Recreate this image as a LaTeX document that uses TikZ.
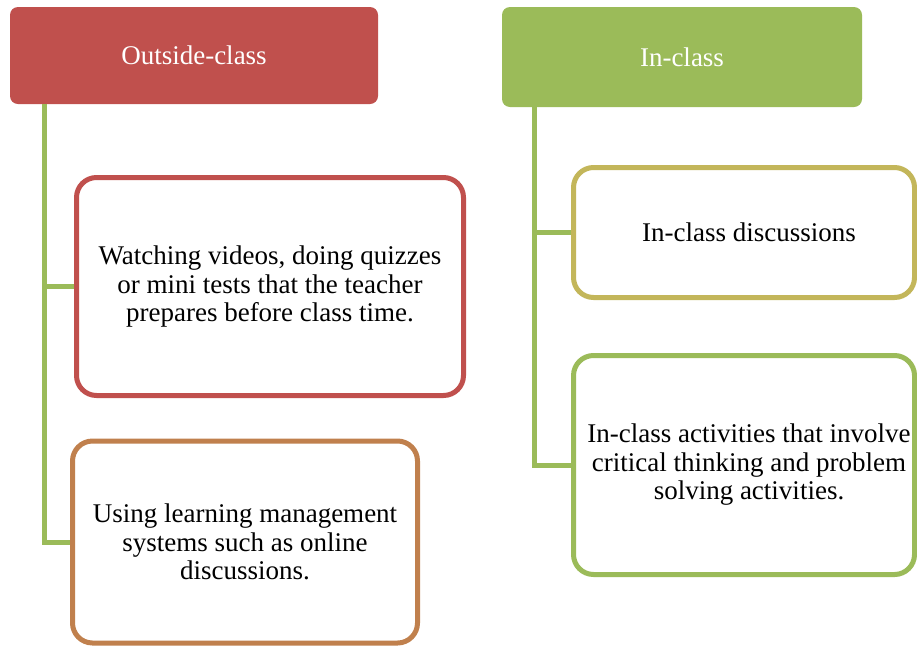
\documentclass[tikz,border=0pt]{standalone}
\usepackage{fontspec}
\setmainfont{Liberation Serif}
\definecolor{hred}{HTML}{C0504D}
\definecolor{hgreen}{HTML}{9BBB59}
\definecolor{borange}{HTML}{C0804D}
\definecolor{bolive}{HTML}{C3B65A}
\tikzset{
  headbox/.style={rectangle, rounded corners=8pt, inner sep=0pt, text=white,
    font=\fontsize{27}{28.5}\selectfont},
  itembox/.style={rectangle, rounded corners=20pt, line width=5pt, fill=white,
    align=center, inner sep=0pt, font=\fontsize{27}{28.5}\selectfont},
  link/.style={line width=5pt, draw=hgreen}
}
\begin{document}
\begin{tikzpicture}[x=1pt,y=-1pt]
\useasboundingbox (0,0) rectangle (917,646);
% headers
\node[headbox, fill=hred, minimum width=368pt, minimum height=97pt] (h1) at (194,55.5) {Outside-class};
\node[headbox, fill=hgreen, minimum width=360pt, minimum height=100pt] (h2) at (682,57) {In-class};
% boxes
\node[itembox, draw=hred, minimum width=387pt, minimum height=218pt] (b1) at (270,286.5)
  {Watching videos, doing quizzes\\or mini tests that the teacher\\prepares before class time.};
\node[itembox, draw=borange, minimum width=345pt, minimum height=202pt] (b2) at (245,542)
  {Using learning management\\systems such as online\\discussions.};
\node[itembox, draw=bolive, minimum width=341pt, minimum height=130pt] (b3) at (744,232.5)
  {\hspace*{10pt}In-class discussions};
\node[itembox, draw=hgreen, minimum width=341pt, minimum height=219pt] (b4) at (744,465)
  {\hspace*{10pt}In-class activities that involve\\\hspace*{10pt}critical thinking and problem\\\hspace*{10pt}solving activities.};
% connectors
\draw[link] ([xshift=35pt]h1.south west) |- (b1.west);
\draw[link] ([xshift=35pt]h1.south west) |- (b2.west);
\draw[link] ([xshift=33pt]h2.south west) |- (b3.west);
\draw[link] ([xshift=33pt]h2.south west) |- (b4.west);
\end{tikzpicture}
\end{document}
